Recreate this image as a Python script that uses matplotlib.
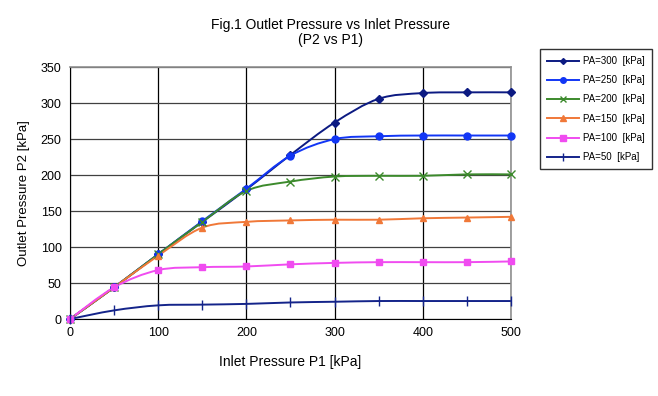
import matplotlib
matplotlib.use("Agg")
import matplotlib.pyplot as plt
import numpy as np
from matplotlib.path import Path
from matplotlib.patches import PathPatch
from matplotlib.lines import Line2D

plt.rcParams['font.family'] = ['Liberation Sans', 'DejaVu Sans']

p1 = [0, 50, 100, 150, 200, 250, 300, 350, 400, 450, 500]
pa300 = [0, 44, 90, 135, 180, 228, 273, 306, 314, 315, 315]
pa250 = [0, 44, 90, 136, 181, 227, 250, 254, 255, 255, 255]
pa200 = [0, 44, 90, 135, 178, 191, 198, 199, 199, 201, 201]
pa150 = [0, 44, 88, 127, 135, 137, 138, 138, 140, 141, 142]
pa100 = [0, 44, 68, 72, 73, 76, 78, 79, 79, 79, 80]
pa50 = [0, 12, 19, 20, 21, 23, 24, 25, 25, 25, 25]

labels = ["PA=300  [kPa]", "PA=250  [kPa]", "PA=200  [kPa]",
          "PA=150  [kPa]", "PA=100  [kPa]", "PA=50  [kPa]"]
series = [pa300, pa250, pa200, pa150, pa100, pa50]
colors = ["#0c1a82", "#1236f5", "#3c8a2c", "#f07838", "#f04cf0", "#14248a"]
markers = ["D", "o", "x", "^", "s", "|"]
msizes = [4, 5, 6, 5, 5, 7]


def smooth_path(x, y):
    # Catmull-Rom style bezier through the points (like Excel smoothed line)
    pts = np.column_stack([x, y]).astype(float)
    verts = [pts[0]]
    codes = [Path.MOVETO]
    n = len(pts)
    for i in range(n - 1):
        p0 = pts[i - 1] if i > 0 else pts[i]
        p1_ = pts[i]
        p2 = pts[i + 1]
        p3 = pts[i + 2] if i + 2 < n else pts[i + 1]
        c1 = p1_ + (p2 - p0) / 6.0
        c2 = p2 - (p3 - p1_) / 6.0
        verts += [c1, c2, p2]
        codes += [Path.CURVE4] * 3
    return Path(verts, codes)


fig = plt.figure(figsize=(6.58, 3.96), dpi=100)
ax = fig.add_axes([0.1064, 0.1944, 0.670, 0.636])

handles = []
for ys, c, m, ms, lab in zip(series, colors, markers, msizes, labels):
    patch = PathPatch(smooth_path(p1, ys), facecolor="none", edgecolor=c,
                      lw=1.4, zorder=3)
    ax.add_patch(patch)
    ax.plot(p1, ys, linestyle="none", marker=m, color=c, markersize=ms,
            markeredgewidth=1.0, zorder=4, clip_on=False)
    handles.append(Line2D([], [], color=c, lw=1.4, marker=m, markersize=ms - 1))

ax.set_xlim(0, 500)
ax.set_ylim(0, 350)
ax.set_xticks(range(0, 501, 100))
ax.set_yticks(range(0, 351, 50))
ax.xaxis.grid(True, color="black", lw=0.9)
ax.yaxis.grid(True, color="#404040", lw=0.9)
ax.set_axisbelow(True)
ax.tick_params(length=0, labelsize=9, pad=6)
for s in ["top", "right"]:
    ax.spines[s].set_color("#909090")
    ax.spines[s].set_linewidth(1.2)
for s in ["left", "bottom"]:
    ax.spines[s].set_color("black")

ax.set_xlabel("Inlet Pressure P1 [kPa]", fontsize=10, labelpad=11)
ax.set_ylabel("Outlet Pressure P2 [kPa]", fontsize=9.5, labelpad=8)
fig.text(0.502, 0.918, "Fig.1 Outlet Pressure vs Inlet Pressure\n(P2 vs P1)",
         ha="center", va="center", fontsize=10, linespacing=1.05)

leg = fig.legend(handles, labels, loc="upper left",
                 bbox_to_anchor=(0.814, 0.888), fontsize=7,
                 frameon=True, fancybox=False, edgecolor="black",
                 handlelength=3.3, handletextpad=0.4, labelspacing=0.95,
                 borderpad=0.7)
leg.get_frame().set_linewidth(1.0)

plt.savefig("out.png", dpi=100)
